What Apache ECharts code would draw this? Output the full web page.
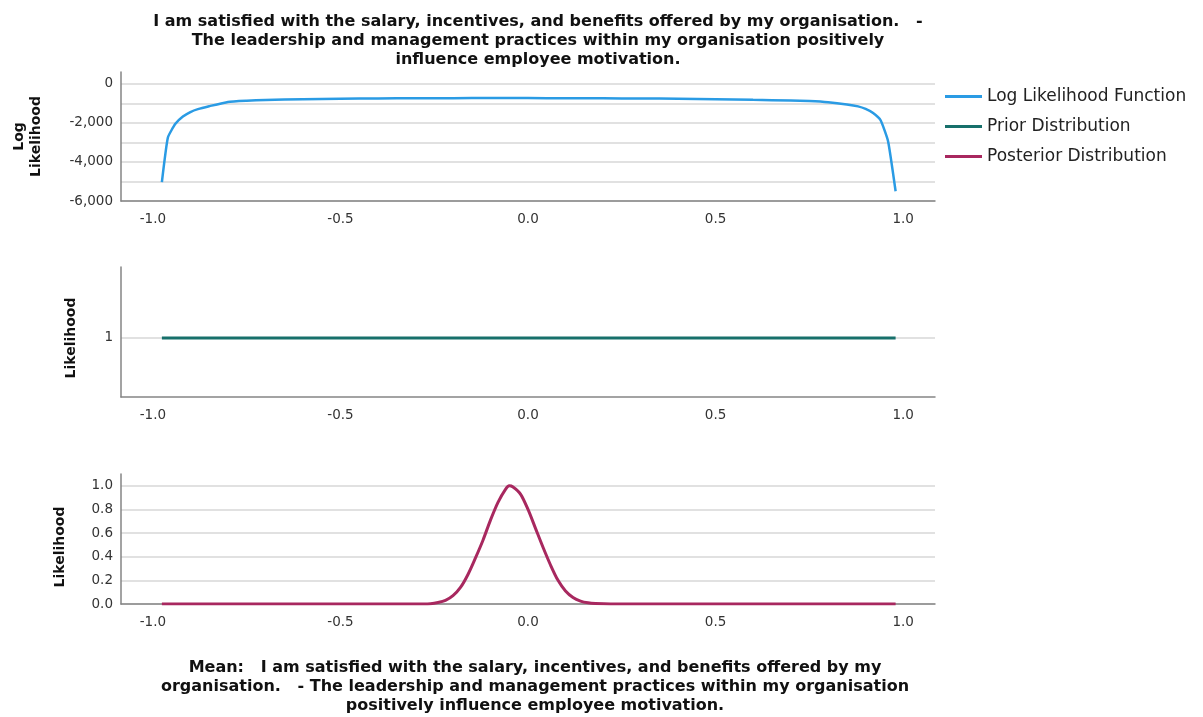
<!DOCTYPE html>
<html>
<head>
<meta charset="utf-8">
<script src="https://cdn.jsdelivr.net/npm/echarts@6/dist/echarts.min.js"></script>
<style>
  html, body { margin: 0; padding: 0; background: #fff; }
  #chart { width: 1203px; height: 717px; }
</style>
</head>
<body>
<div id="chart"></div>
<script>
const titleLines = [
  'I am satisfied with the salary, incentives, and benefits offered by my organisation.   -',
  'The leadership and management practices within my organisation positively',
  'influence employee motivation.'
];
const xTitleLines = [
  'Mean:   I am satisfied with the salary, incentives, and benefits offered by my',
  'organisation.   - The leadership and management practices within my organisation',
  'positively influence employee motivation.'
];
const seriesNames = ['Log Likelihood Function', 'Prior Distribution', 'Posterior Distribution'];
const xTicks = [-1, -0.5, 0, 0.5, 1];

// log likelihood
const logLikX = [-0.976, -0.96, -0.94, -0.92, -0.90, -0.88, -0.85, -0.80, -0.75, -0.70, -0.60, -0.50,
  -0.40, -0.30, -0.20, -0.10, 0, 0.10, 0.20, 0.30, 0.40, 0.50, 0.60, 0.70, 0.75, 0.80, 0.85,
  0.88, 0.90, 0.92, 0.94, 0.96, 0.98];
const logLikY = [-5030, -2750, -2050, -1680, -1450, -1300, -1150, -930, -870, -835, -790, -765,
  -750, -742, -737, -735, -736, -740, -746, -755, -768, -790, -825, -855, -890, -950, -1060,
  -1160, -1290, -1500, -1870, -2950, -5500];

// prior, flat
const priorX = [-0.976, 0.98];
const priorY = [1, 1];

// posterior
const postX = [-0.976, -0.30, -0.26, -0.24, -0.22, -0.20, -0.18, -0.16, -0.14, -0.12, -0.10, -0.08,
  -0.06, -0.05, -0.04, -0.02, 0, 0.02, 0.04, 0.06, 0.08, 0.10, 0.12, 0.14, 0.16, 0.18, 0.22, 0.98];
const postY = [0, 0, 0.003, 0.012, 0.03, 0.07, 0.14, 0.25, 0.39, 0.54, 0.71, 0.86,
  0.97, 1.0, 0.99, 0.93, 0.80, 0.64, 0.48, 0.33, 0.20, 0.11, 0.055, 0.025, 0.01, 0.004, 0, 0];

const colors = ['#2a9be4', '#17706b', '#a8285f'];
const font = 'DejaVu Sans';
const axisGrey = '#858585';
const gridGrey = '#d7d7d7';

const chart = echarts.init(document.getElementById('chart'), null, { renderer: 'canvas' });

const pairs = (xs, ys) => xs.map((x, i) => [x, ys[i]]);

const makeX = (gridIndex) => ({
  type: 'value',
  gridIndex,
  min: -1.085,
  max: 1.085,
  axisLine: { onZero: false, lineStyle: { color: axisGrey, width: 1.5 } },
  axisTick: { show: false, customValues: xTicks },
  splitLine: { show: false },
  axisLabel: {
    customValues: xTicks,
    margin: 11,
    color: '#333',
    fontFamily: font,
    fontSize: 13.5,
    formatter: (v) => v.toFixed(1)
  }
});

const makeY = (gridIndex, opts) => ({
  type: 'value',
  gridIndex,
  min: opts.min,
  max: opts.max,
  name: opts.name,
  nameLocation: 'middle',
  nameRotate: 90,
  nameGap: opts.nameGap,
  nameTextStyle: {
    fontFamily: font,
    fontWeight: 'bold',
    fontSize: 14,
    color: '#111',
    lineHeight: 17,
    padding: [0, opts.nameShift || 0, 0, 0]
  },
  axisLine: { show: true, onZero: false, lineStyle: { color: axisGrey, width: 1.5 } },
  axisTick: { show: false, customValues: opts.ticks },
  splitLine: { show: true, lineStyle: { color: gridGrey, width: 1.5 } },
  axisLabel: {
    customValues: opts.labels,
    margin: 8,
    color: '#333',
    fontFamily: font,
    fontSize: 13.5,
    formatter: opts.fmt
  }
});

chart.setOption({
  animation: false,
  title: [
    {
      text: titleLines.join('\n'),
      left: 533,
      top: 7,
      textAlign: 'center',
      textStyle: { fontFamily: font, fontWeight: 'bold', fontSize: 16, lineHeight: 19, color: '#111' }
    },
    {
      text: xTitleLines.join('\n'),
      left: 530,
      top: 653,
      textAlign: 'center',
      textStyle: { fontFamily: font, fontWeight: 'bold', fontSize: 16, lineHeight: 19, color: '#111' }
    }
  ],
  legend: {
    data: seriesNames,
    orient: 'vertical',
    left: 945,
    top: 88,
    padding: 0,
    icon: 'rect',
    itemWidth: 37,
    itemHeight: 3,
    itemGap: 13,
    textStyle: { fontFamily: font, fontSize: 17, color: '#222' }
  },
  grid: [
    { left: 121, top: 72, width: 814, height: 129 },
    { left: 121, top: 267, width: 814, height: 130 },
    { left: 121, top: 474, width: 814, height: 130 }
  ],
  xAxis: [makeX(0), makeX(1), makeX(2)],
  yAxis: [
    makeY(0, {
      min: -6000, max: 600, name: 'Log\nLikelihood', nameGap: 76,
      ticks: [-6000, -5000, -4000, -3000, -2000, -1000, 0],
      labels: [-6000, -4000, -2000, 0],
      fmt: (v) => v.toLocaleString('en-US')
    }),
    makeY(1, {
      min: 0, max: 2.2, name: 'Likelihood', nameGap: 41, nameShift: 12,
      ticks: [1], labels: [1],
      fmt: (v) => String(v)
    }),
    makeY(2, {
      min: 0, max: 1.1, name: 'Likelihood', nameGap: 52, nameShift: 16,
      ticks: [0, 0.2, 0.4, 0.6, 0.8, 1.0],
      labels: [0, 0.2, 0.4, 0.6, 0.8, 1.0],
      fmt: (v) => v.toFixed(1)
    })
  ],
  series: [
    {
      name: seriesNames[0], type: 'line', xAxisIndex: 0, yAxisIndex: 0,
      data: pairs(logLikX, logLikY), showSymbol: false, smooth: 0.15,
      itemStyle: { color: colors[0] }, lineStyle: { color: colors[0], width: 2.5 }
    },
    {
      name: seriesNames[1], type: 'line', xAxisIndex: 1, yAxisIndex: 1,
      data: pairs(priorX, priorY), showSymbol: false,
      itemStyle: { color: colors[1] }, lineStyle: { color: colors[1], width: 3 }
    },
    {
      name: seriesNames[2], type: 'line', xAxisIndex: 2, yAxisIndex: 2,
      data: pairs(postX, postY), showSymbol: false, smooth: 0.3,
      itemStyle: { color: colors[2] }, lineStyle: { color: colors[2], width: 3 }
    }
  ]
});
</script>
</body>
</html>
